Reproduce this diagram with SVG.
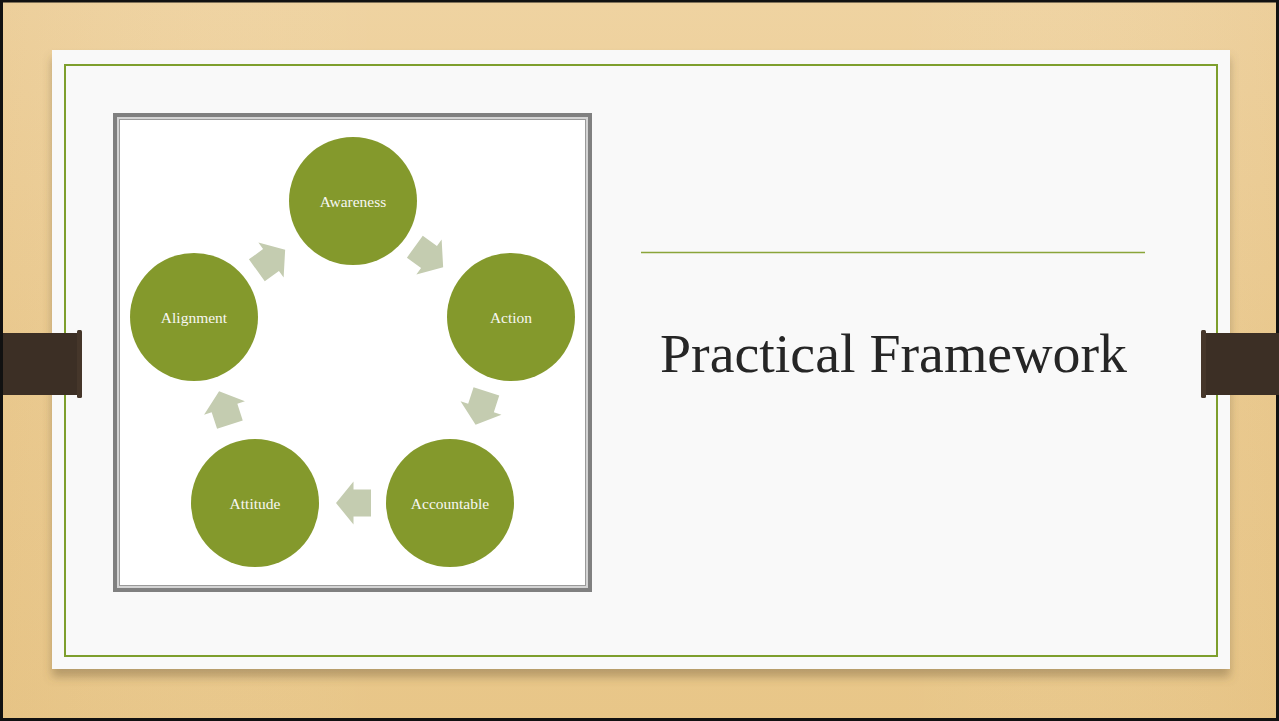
<svg xmlns="http://www.w3.org/2000/svg" width="1279" height="721" viewBox="0 0 1279 721">
  <defs>
    <linearGradient id="wood" x1="0" y1="0" x2="0" y2="1">
      <stop offset="0" stop-color="#EFD3A1"/>
      <stop offset="0.5" stop-color="#EBCB91"/>
      <stop offset="1" stop-color="#E8C688"/>
    </linearGradient>
    <linearGradient id="woodH" x1="0" y1="0" x2="1" y2="0">
      <stop offset="0" stop-color="#D9B070" stop-opacity="0.12"/>
      <stop offset="0.3" stop-color="#FFFFFF" stop-opacity="0"/>
      <stop offset="0.7" stop-color="#FFFFFF" stop-opacity="0"/>
      <stop offset="1" stop-color="#D9B070" stop-opacity="0.12"/>
    </linearGradient>
    <filter id="shadow" x="-5%" y="-5%" width="110%" height="115%">
      <feDropShadow dx="0" dy="8" stdDeviation="5" flood-color="#6B5A3A" flood-opacity="0.4"/>
    </filter>
    <polygon id="arrow" points="-17.5,-13.5 0,-13.5 0,-21.5 17.5,0 0,21.5 0,13.5 -17.5,13.5"/>
    <style>
      .node circle { fill: #84992C; }
      .node text { font-family: "Liberation Serif", serif; font-size: 15.5px; fill: #F7F7F2; text-anchor: middle; dominant-baseline: central; }
      .conn use { fill: #C4CCB0; }
      .strap { fill: #3C2F25; }
      .cap { fill: #45362A; }
    </style>
  </defs>

  <!-- background wood -->
  <rect x="0" y="0" width="1279" height="721" fill="url(#wood)"/>
  <rect x="0" y="0" width="1279" height="721" fill="url(#woodH)"/>
  <rect x="1.5" y="1" width="1276" height="718.5" fill="none" stroke="#111" stroke-width="3"/>

  <!-- card -->
  <rect x="52" y="50" width="1178" height="619" fill="#F9F9F9" filter="url(#shadow)"/>
  <rect x="65" y="65" width="1152" height="591" fill="none" stroke="#7E9F2D" stroke-width="2"/>

  <!-- straps -->
  <g id="strap-left">
    <rect class="strap" x="3" y="333" width="76" height="62"/>
    <rect class="cap" x="77" y="330" width="5" height="68" rx="1.5"/>
  </g>
  <g id="strap-right">
    <rect class="strap" x="1203" y="333" width="76" height="62"/>
    <rect class="cap" x="1201" y="330" width="5" height="68" rx="1.5"/>
  </g>

  <!-- picture frame -->
  <g id="frame">
    <rect x="113" y="113" width="479" height="479" fill="#808080"/>
    <rect x="117" y="117" width="471" height="471" fill="#D4D4D4"/>
    <rect x="119" y="119" width="467" height="467" fill="#9A9A9A"/>
    <rect x="120" y="120" width="465" height="465" fill="#FFFFFF"/>
  </g>

  <!-- connectors -->
  <g id="connectors" class="conn">
    <use href="#arrow" transform="translate(271,260) rotate(-36)"/>
    <use href="#arrow" transform="translate(429,257) rotate(36)"/>
    <use href="#arrow" transform="translate(481,408) rotate(108)"/>
    <use href="#arrow" transform="translate(353.5,503) rotate(180)"/>
    <use href="#arrow" transform="translate(224.5,408) rotate(252)"/>
  </g>

  <!-- nodes -->
  <g id="node-awareness" class="node">
    <circle cx="353" cy="201" r="64"/>
    <text x="353" y="201">Awareness</text>
  </g>
  <g id="node-action" class="node">
    <circle cx="511" cy="317" r="64"/>
    <text x="511" y="317">Action</text>
  </g>
  <g id="node-accountable" class="node">
    <circle cx="450" cy="503" r="64"/>
    <text x="450" y="503">Accountable</text>
  </g>
  <g id="node-attitude" class="node">
    <circle cx="255" cy="503" r="64"/>
    <text x="255" y="503">Attitude</text>
  </g>
  <g id="node-alignment" class="node">
    <circle cx="194" cy="317" r="64"/>
    <text x="194" y="317">Alignment</text>
  </g>

  <!-- title -->
  <line x1="641" y1="252.5" x2="1145" y2="252.5" stroke="#8AA53A" stroke-width="1.5"/>
  <text x="660" y="372" font-family="Liberation Serif, serif" font-size="55" fill="#262626" textLength="467" lengthAdjust="spacingAndGlyphs">Practical Framework</text>
</svg>
